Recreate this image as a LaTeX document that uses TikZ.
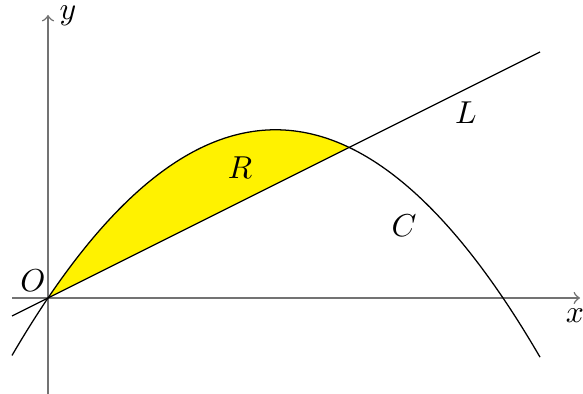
\documentclass[tikz,border=0pt]{standalone}
\usepackage{tikz}
\begin{document}
\begin{tikzpicture}[x=0.3155pt,y=0.3155pt,
  axis/.style={draw=black!55,line width=0.5pt,->},
  curve/.style={draw=black,line width=0.4pt},
  lbl/.style={inner sep=0pt}]
\useasboundingbox (-48,-96) rectangle (535,298);
% region R
\fill[fill=yellow] plot[domain=0:301.15,samples=80] (\x,{0.325*\x*(4.55-\x/100)}) -- cycle;
% axes
\coordinate (xs) at (-36,0);
\coordinate (xe) at (532,0);
\coordinate (ys) at (0,-96);
\coordinate (ye) at (0,283);
\draw[axis] (xs) -- (xe);
\draw[axis] (ys) -- (ye);
% line L
\coordinate (l1) at (-36,-18);
\coordinate (l2) at (492,246);
\draw[curve] (l1) -- (l2);
% curve C
\draw[curve] plot[domain=-36:492,samples=150] (\x,{0.325*\x*(4.55-\x/100)});
% labels
\node[lbl] (ylab) at (20,282) {$y$};
\node[lbl] (xlab) at (527,-18) {$x$};
\node[lbl] (olab) at (-15,17) {$O$};
\node[lbl] (llab) at (418,185) {$L$};
\node[lbl] (rlab) at (192,130) {$R$};
\node[lbl] (clab) at (356,72) {$C$};
\end{tikzpicture}
\end{document}
